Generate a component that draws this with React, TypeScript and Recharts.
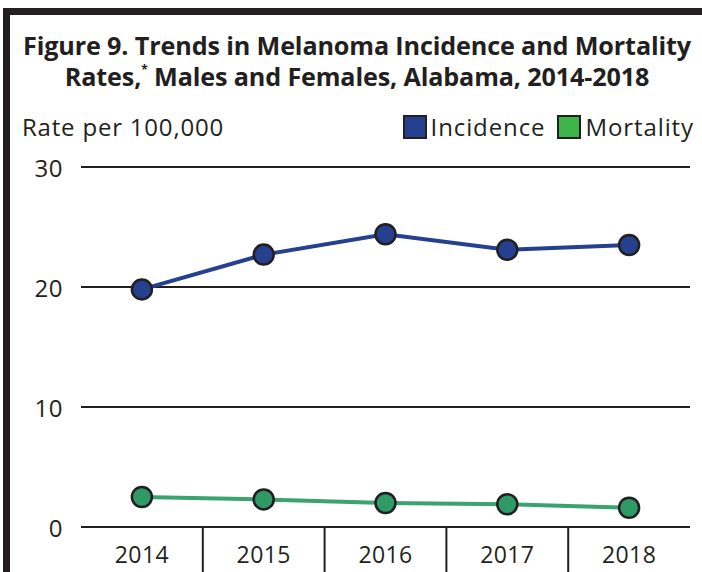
import React from "react";
import { LineChart, Line, XAxis, YAxis, CartesianGrid } from "recharts";

const years = ["2014", "2015", "2016", "2017", "2018"];
const incidence = [19.8, 22.7, 24.4, 23.1, 23.5];
const mortality = [2.5, 2.3, 2.0, 1.9, 1.6];
const yTicks = [0, 10, 20, 30];

const data = years.map((year, i) => ({
  year,
  incidence: incidence[i],
  mortality: mortality[i],
}));

const W = 702;
const H = 572;
const INK = "#231f20";
const BLUE = "#24408f";
const GREEN_DOT = "#2f9a66";
const GREEN_LINE = "#3ba46e";
const GREEN_KEY = "#3db54a";
const FONT = "'Open Sans', Lato, sans-serif";

const margin = { top: 167, right: 12, left: 21, bottom: 0 };
const yAxisWidth = 60;
const bandWidth = (W - margin.left - margin.right - yAxisWidth) / years.length;

const XTick = (props: any) => {
  const { x, y, payload, index } = props;
  return (
    <g>
      {index < years.length - 1 && (
        <line
          x1={x + bandWidth / 2}
          x2={x + bandWidth / 2}
          y1={y}
          y2={y + 46}
          stroke={INK}
          strokeWidth={2}
        />
      )}
      <text
        x={x}
        y={y + 27}
        textAnchor="middle"
        dominantBaseline="central"
        fill={INK}
        fontSize={23}
        letterSpacing={0.4}
        fontFamily={FONT}
      >
        {payload.value}
      </text>
    </g>
  );
};

const YTick = (props: any) => {
  const { x, y, payload } = props;
  return (
    <text
      x={x}
      y={y}
      textAnchor="end"
      dominantBaseline="central"
      fill={INK}
      fontSize={24}
      letterSpacing={0.5}
      fontFamily={FONT}
    >
      {payload.value}
    </text>
  );
};

const Key = ({ color, label, gap }: { color: string; label: string; gap: number }) => (
  <span style={{ display: "inline-flex", alignItems: "center", marginLeft: gap }}>
    <span
      style={{
        display: "inline-block",
        width: 20,
        height: 20,
        background: color,
        border: `2px solid ${INK}`,
        marginRight: 4,
      }}
    />
    {label}
  </span>
);

export default function App() {
  return (
    <div
      style={{
        position: "absolute",
        left: 0,
        top: 0,
        width: W,
        height: H,
        background: "#fff",
        overflow: "hidden",
        fontFamily: FONT,
        color: INK,
      }}
    >
      <div style={{ position: "absolute", left: 3, top: 8, width: W - 3, height: 7, background: INK }} />
      <div style={{ position: "absolute", left: 3, top: 8, width: 7, height: H - 8, background: INK }} />
      <div
        style={{
          position: "absolute",
          left: 12,
          right: 0,
          top: 30,
          textAlign: "center",
          fontWeight: 700,
          fontSize: 25.2,
          lineHeight: "31px",
          letterSpacing: -0.15,
        }}
      >
        Figure 9. Trends in Melanoma Incidence and Mortality
        <br />
        Rates,<sup style={{ fontSize: 12, verticalAlign: "top", lineHeight: "18px" }}>*</sup> Males and Females, Alabama, 2014-2018
      </div>
      <div style={{ position: "absolute", left: 22, top: 110, fontSize: 24, letterSpacing: 0.8 }}>
        Rate per 100,000
      </div>
      <div
        style={{
          position: "absolute",
          right: 8,
          top: 110,
          fontSize: 24,
          letterSpacing: 0.9,
          display: "flex",
        }}
      >
        <Key color={BLUE} label="Incidence" gap={0} />
        <Key color={GREEN_KEY} label="Mortality" gap={12} />
      </div>
      <div style={{ position: "absolute", left: 0, top: 0 }}>
        <LineChart width={W} height={H} data={data} margin={margin}>
          <CartesianGrid vertical={false} stroke={INK} strokeWidth={2} />
          <XAxis
            dataKey="year"
            scale="band"
            height={H - 527}
            axisLine={{ stroke: INK, strokeWidth: 2 }}
            tickLine={false}
            tickSize={0}
            tickMargin={0}
            tick={<XTick />}
            interval={0}
          />
          <YAxis
            width={yAxisWidth}
            domain={[0, 30]}
            ticks={yTicks}
            axisLine={false}
            tickLine={false}
            tickSize={0}
            tickMargin={18}
            tick={<YTick />}
          />
          <Line
            dataKey="incidence"
            stroke={BLUE}
            strokeWidth={4}
            dot={{ r: 10, fill: BLUE, stroke: INK, strokeWidth: 2.5 }}
            isAnimationActive={false}
          />
          <Line
            dataKey="mortality"
            stroke={GREEN_LINE}
            strokeWidth={4}
            dot={{ r: 10, fill: GREEN_DOT, stroke: INK, strokeWidth: 2.5 }}
            isAnimationActive={false}
          />
        </LineChart>
      </div>
    </div>
  );
}
